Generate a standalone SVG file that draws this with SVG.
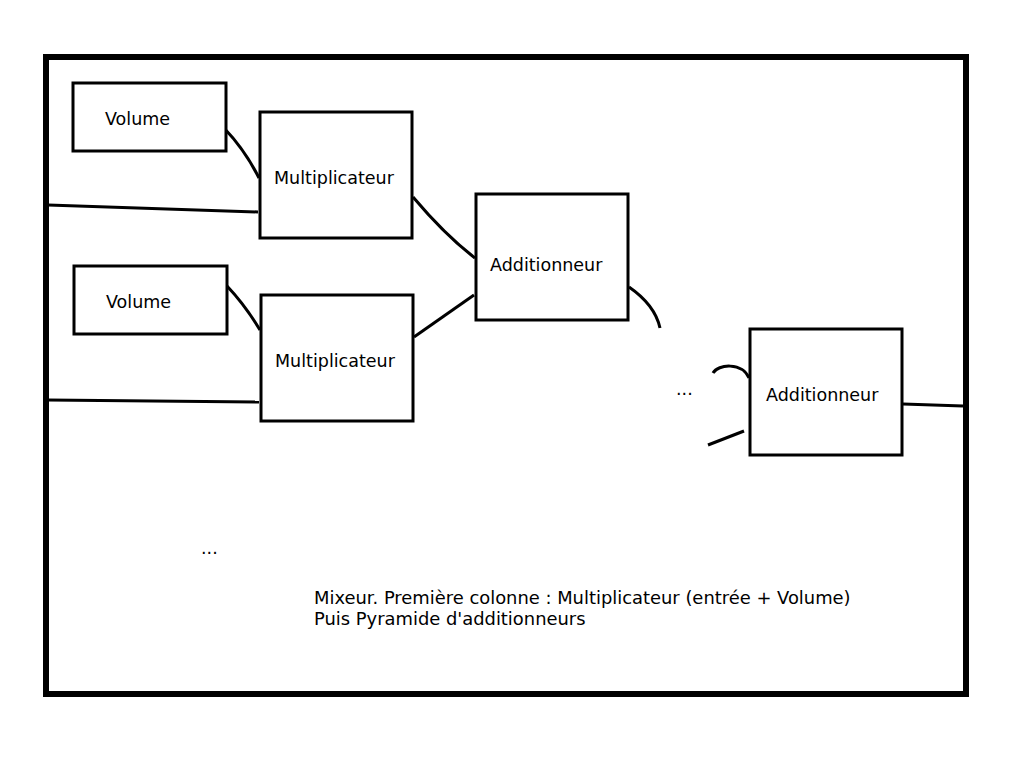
<svg xmlns="http://www.w3.org/2000/svg" width="1024" height="768" viewBox="0 0 1024 768">
<style>
.box{fill:#fff;stroke:#000;stroke-width:3}
.lbl{font-family:"DejaVu Sans",sans-serif;font-size:17.5px;fill:#000}
.cap{font-family:"DejaVu Sans",sans-serif;font-size:17.9px;fill:#000}
.w{fill:none;stroke:#000;stroke-width:3;stroke-linecap:butt}
</style>
<rect width="1024" height="768" fill="#fff"/>
<rect x="46" y="57" width="920" height="637" fill="none" stroke="#000" stroke-width="6"/>
<g id="connectors">
<path class="w" d="M224,128 Q245,150 259,178"/>
<path class="w" d="M48,205 L258,212"/>
<path class="w" d="M413,197 Q445,235 475,258"/>
<path class="w" d="M227,286 Q245,305 260,330"/>
<path class="w" d="M48,400 L259,402"/>
<path class="w" d="M414,337 L474,295"/>
<path class="w" d="M629,287 Q655,305 660,328"/>
<path class="w" d="M713,373 C718,364 742,362 749,378"/>
<path class="w" d="M708,445 L744,431"/>
<path class="w" d="M903,404 L963,406"/>
</g>
<g id="volume1"><rect class="box" x="73" y="83" width="153" height="68"/><text class="lbl" x="105" y="125">Volume</text></g>
<g id="mult1"><rect class="box" x="260" y="112" width="152" height="126"/><text class="lbl" x="274" y="184">Multiplicateur</text></g>
<g id="volume2"><rect class="box" x="74" y="266" width="153" height="68"/><text class="lbl" x="106" y="308">Volume</text></g>
<g id="mult2"><rect class="box" x="261" y="295" width="152" height="126"/><text class="lbl" x="275" y="367">Multiplicateur</text></g>
<g id="add1"><rect class="box" x="476" y="194" width="152" height="126"/><text class="lbl" x="490" y="271">Additionneur</text></g>
<g id="add2"><rect class="box" x="750" y="329" width="152" height="126"/><text class="lbl" x="766" y="401">Additionneur</text></g>
<text class="lbl" x="676" y="395">...</text>
<text class="lbl" x="201" y="554">...</text>
<text class="cap" x="314" y="604">Mixeur. Première colonne : Multiplicateur (entrée + Volume)</text>
<text class="cap" x="314" y="625">Puis Pyramide d'additionneurs</text>
</svg>
